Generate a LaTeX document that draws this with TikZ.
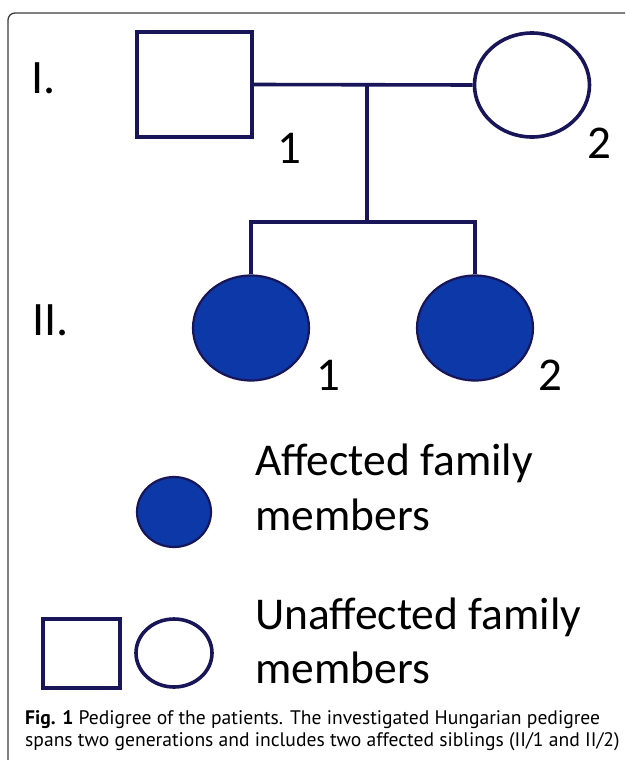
\documentclass[tikz,border=0pt]{standalone}
\usepackage{fontspec}
\usetikzlibrary{shapes.geometric}
\newfontfamily\labfont{Carlito}
\newfontfamily\capfont{PT Sans}
\definecolor{navy}{RGB}{24,22,88}
\definecolor{affblue}{RGB}{12,56,168}
\definecolor{framegray}{RGB}{60,60,60}
\tikzset{
  person/.style={draw=navy, line width=3.6pt, inner sep=0pt},
  male/.style={person, rectangle},
  female/.style={person, ellipse},
  affected/.style={fill=affblue, draw=navy, line width=2.2pt},
  conn/.style={navy, line width=3.6pt},
  gen/.style={anchor=base west, inner sep=0pt, font=\labfont\fontsize{48}{48}\selectfont},
  num/.style={anchor=base west, inner sep=0pt, font=\labfont\fontsize{47}{47}\selectfont},
  legtext/.style={anchor=base west, inner sep=0pt, font=\labfont\fontsize{45.5}{45.5}\selectfont},
  captext/.style={anchor=base west, inner sep=0pt, font=\capfont\fontsize{19.6}{19.6}\selectfont}
}
\begin{document}
\begin{tikzpicture}[x=1pt,y=-1pt]
\useasboundingbox (0,0) rectangle (625,760);
\clip (0,0) rectangle (625,760);
\fill[white] (0,0) rectangle (625,760);
% frame
\draw[framegray, line width=1.3pt, rounded corners=7pt] (8,780) -- (8,13) -- (650,13);
% generation labels
\node[gen] (g1) at (31,93) {I.};
\node[gen] (g2) at (32,335) {II.};
% generation I
\node[male, minimum width=115pt, minimum height=105pt] (f1) at (194.5,84.5) {};
\node[female, minimum width=115pt, minimum height=104pt] (m1) at (532,85) {};
\node[num] (n11) at (277,163) {1};
\node[num] (n12) at (587,158) {2};
% generation II
\node[female, affected, minimum width=116pt, minimum height=105pt] (c1) at (251,328) {};
\node[female, affected, minimum width=116pt, minimum height=105pt] (c2) at (475,328) {};
\node[num] (n21) at (316,390) {1};
\node[num] (n22) at (538,390) {2};
% connectors
\coordinate (mid) at (367,84.5);
\coordinate (sib) at (367,222);
\draw[conn] (f1.east) -- (m1.west);
\draw[conn] (mid) -- (sib);
\draw[conn] (c1.north) -- (c1.north |- sib) -- (c2.north |- sib) -- (c2.north);
% legend
\node[female, affected, minimum width=74pt, minimum height=70pt] (la) at (174,512) {};
\node[legtext] (t1) at (255,475) {Affected family};
\node[legtext] (t2) at (255,530) {members};
\node[male, minimum width=77pt, minimum height=69pt] (lm) at (81.5,653.5) {};
\node[female, minimum width=76pt, minimum height=68pt] (lf) at (174,653) {};
\node[legtext] (t3) at (255,629) {Unaffected family};
\node[legtext] (t4) at (255,683) {members};
% caption
\node[captext] (c1t) at (25,724) {\textbf{Fig. 1} Pedigree of the patients. The investigated Hungarian pedigree};
\node[captext] (c2t) at (25,746) {spans two generations and includes two affected siblings (II/1 and II/2)};
\end{tikzpicture}
\end{document}
